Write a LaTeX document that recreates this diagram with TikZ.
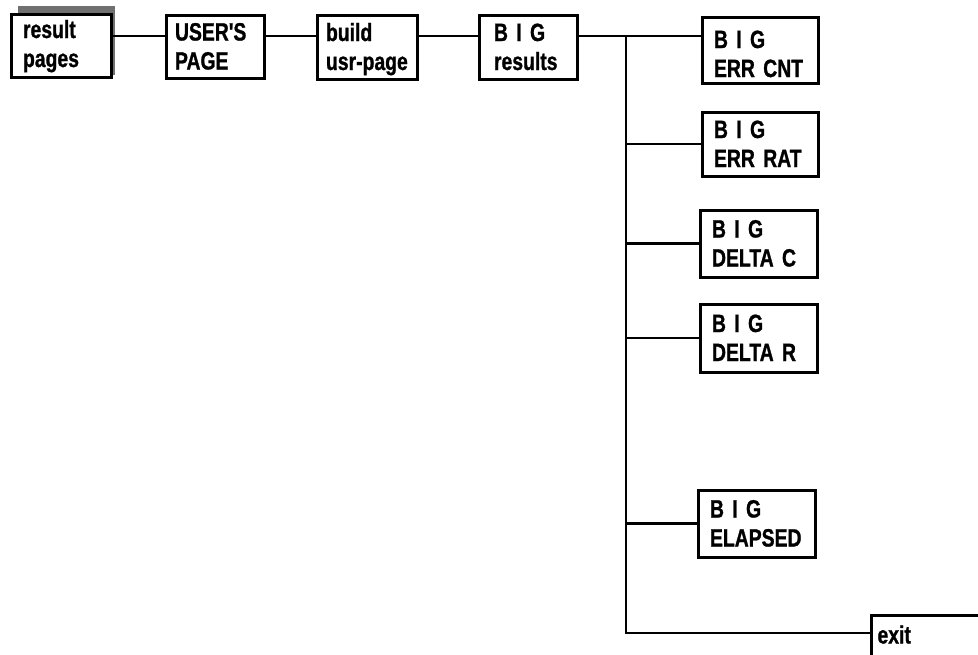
\documentclass[tikz,border=0pt]{standalone}
\usepackage{fontspec}
\usepackage{xcolor}
\usepackage{tikz}
\usetikzlibrary{positioning, calc}
\newfontfamily\condfont{Liberation Sans}[FakeStretch=0.775, FakeBold=1]
\definecolor{sombra}{HTML}{707070}
\tikzset{
  every picture/.style={line join=miter},
  box/.style={draw=black, fill=white, line width=3pt, align=left,
              inner xsep=12pt, inner ysep=0pt, text height=18pt, text depth=30pt,
              font=\condfont\bfseries\fontsize{25}{29}\selectfont},
  link/.style={line width=2.7pt, black},
}

\begin{document}
\begin{tikzpicture}[x=1pt, y=-1pt]
  \useasboundingbox (0,0) rectangle (978,654);
  \clip (0,0) rectangle (978,654);
  % top row
  \fill[sombra] (18,6) rectangle (115,75);
  \node[box, text width=76pt, minimum height=63pt, text depth=33pt] (res) at (61,45.5) {result\\pages};
  \node[box, inner xsep=9pt, text width=80pt, minimum height=63pt] (usr) at (215,46.5) {USER'S\\PAGE};
  \node[box, inner xsep=9pt, text width=82pt, minimum height=64pt] (bld) at (367,47) {build\\usr-page};
  \node[box, inner xsep=15pt, text width=68pt, minimum height=64pt] (bres) at (528,47) {B I G\\results};
  % branches
  \node[box, text width=92pt, minimum height=66pt, text depth=22pt] (ecnt) at (760,50) {B I G\\ERR CNT};
  \node[box, text width=92pt, minimum height=64pt] (erat) at (760,144) {B I G\\ERR RAT};
  \node[box, text width=93pt, minimum height=67pt] (dc) at (758.5,243.5) {B I G\\DELTA C};
  \node[box, text width=93pt, minimum height=68pt] (dr) at (758.5,338) {B I G\\DELTA R};
  \node[box, text width=93pt, minimum height=67pt] (ela) at (756.5,523.5) {B I G\\ELAPSED};
  \node[box, anchor=north west, inner xsep=6pt, text width=120pt, minimum height=44pt,
        text height=12pt, text depth=0pt] (ext) at (870,614) {exit};
  % connectors
  \coordinate (row) at (0,36);
  \coordinate (tr) at (626,36);
  \coordinate (tb) at (626,633);
  \draw[link] (res.east |- row) -- (usr.west |- row);
  \draw[link] (usr.east |- row) -- (bld.west |- row);
  \draw[link] (bld.east |- row) -- (bres.west |- row);
  \draw[link] (bres.east |- row) -- (ecnt.west |- row);
  \draw[link] (tr) -- (tb) -- (ext.west |- tb);
  \foreach \b in {erat, dc, dr, ela}
    \draw[link] (\b.west) -- (\b.west -| tr);
\end{tikzpicture}
\end{document}
